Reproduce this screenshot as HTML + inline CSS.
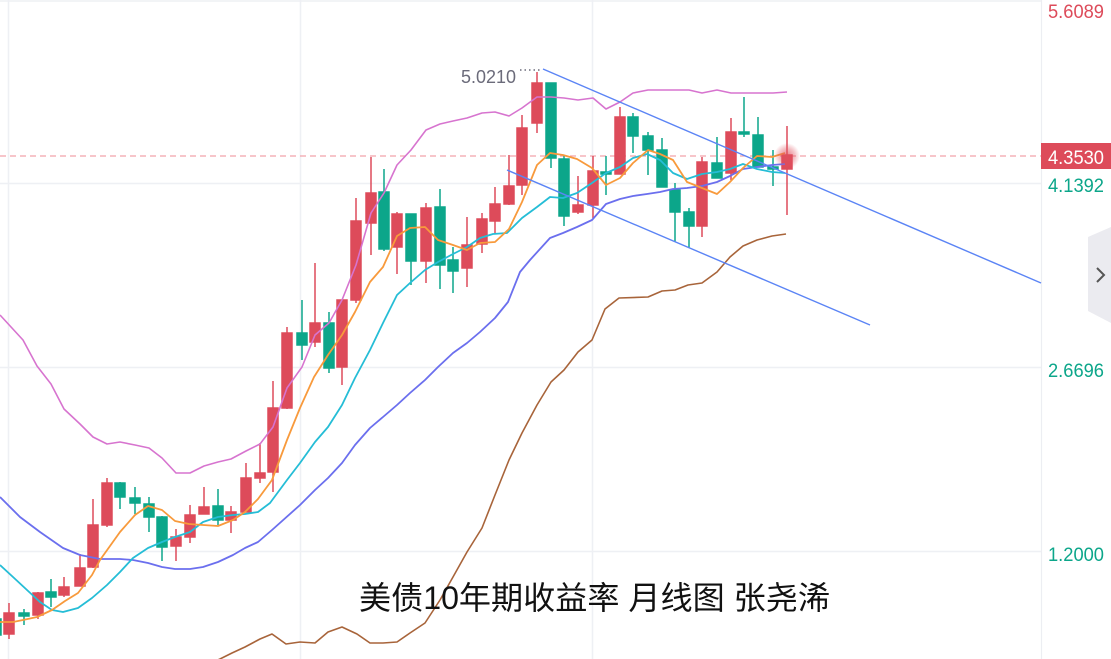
<!DOCTYPE html>
<html><head><meta charset="utf-8"><style>
html,body{margin:0;padding:0;background:#fff;}
svg{display:block;}
</style></head><body>
<svg width="1111" height="659" viewBox="0 0 1111 659" xmlns="http://www.w3.org/2000/svg">
<rect width="1111" height="659" fill="#fff"/>
<radialGradient id="glow"><stop offset="0" stop-color="#e0505e" stop-opacity="0.75"/><stop offset="0.6" stop-color="#e0505e" stop-opacity="0.35"/><stop offset="1" stop-color="#e0505e" stop-opacity="0"/></radialGradient>
<!-- grid -->
<g stroke="#eef0f4" stroke-width="1.5" fill="none">
<line x1="0" y1="1" x2="1041" y2="1"/>
<line x1="0" y1="183.5" x2="1041" y2="183.5"/>
<line x1="0" y1="367.5" x2="1041" y2="367.5"/>
<line x1="0" y1="551.5" x2="1041" y2="551.5"/>
<line x1="8.5" y1="0" x2="8.5" y2="659"/>
<line x1="300.5" y1="0" x2="300.5" y2="659"/>
<line x1="592.5" y1="0" x2="592.5" y2="659"/>
</g>
<line x1="1041.5" y1="0" x2="1041.5" y2="659" stroke="#eceef2" stroke-width="1.2"/>
<line x1="0" y1="156" x2="1041" y2="156" stroke="#f2a2aa" stroke-width="1.2" stroke-dasharray="6 4"/>

<!-- candles -->
<g stroke-width="1.5">
<g stroke="#dd4b5a" fill="#dd4b5a">
<line x1="9" y1="603" x2="9" y2="639"/><rect x="4" y="613" width="10" height="21"/>
<line x1="38" y1="592" x2="38" y2="619"/><rect x="33" y="593" width="10" height="22"/>
<line x1="64" y1="577" x2="64" y2="597"/><rect x="59" y="587" width="10" height="8"/>
<line x1="80" y1="554" x2="80" y2="586"/><rect x="75" y="568" width="10" height="18"/>
<line x1="93" y1="499" x2="93" y2="568"/><rect x="88" y="525" width="10" height="42"/>
<line x1="107" y1="478" x2="107" y2="527"/><rect x="102" y="483" width="10" height="42"/>
<line x1="176" y1="529" x2="176" y2="561"/><rect x="171" y="537" width="10" height="9"/>
<line x1="190" y1="505" x2="190" y2="543"/><rect x="185" y="515" width="10" height="22"/>
<line x1="204" y1="487" x2="204" y2="514"/><rect x="199" y="507" width="10" height="7"/>
<line x1="231" y1="506" x2="231" y2="533"/><rect x="226" y="512" width="10" height="8"/>
<line x1="246" y1="463" x2="246" y2="512"/><rect x="241" y="478" width="10" height="34"/>
<line x1="260" y1="443" x2="260" y2="483"/><rect x="255" y="473" width="10" height="5"/>
<line x1="273" y1="381" x2="273" y2="492"/><rect x="268" y="408" width="10" height="64"/>
<line x1="287" y1="327" x2="287" y2="409"/><rect x="282" y="333" width="10" height="75"/>
<line x1="315" y1="263" x2="315" y2="347"/><rect x="310" y="323" width="10" height="19"/>
<line x1="342" y1="300" x2="342" y2="385"/><rect x="337" y="300" width="10" height="67"/>
<line x1="356" y1="198" x2="356" y2="303"/><rect x="351" y="221" width="10" height="79"/>
<line x1="371" y1="157" x2="371" y2="255"/><rect x="366" y="193" width="10" height="30"/>
<line x1="397" y1="212" x2="397" y2="274"/><rect x="392" y="214" width="10" height="33"/>
<line x1="426" y1="203" x2="426" y2="283"/><rect x="421" y="208" width="10" height="53"/>
<line x1="467" y1="217" x2="467" y2="287"/><rect x="462" y="245" width="10" height="23"/>
<line x1="482" y1="213" x2="482" y2="253"/><rect x="477" y="219" width="10" height="25"/>
<line x1="495" y1="187" x2="495" y2="233"/><rect x="490" y="204" width="10" height="17"/>
<line x1="509" y1="155" x2="509" y2="205"/><rect x="504" y="186" width="10" height="18"/>
<line x1="522" y1="115" x2="522" y2="195"/><rect x="517" y="128" width="10" height="57"/>
<line x1="537" y1="72" x2="537" y2="133"/><rect x="532" y="83" width="10" height="40"/>
<line x1="578" y1="176" x2="578" y2="214"/><rect x="573" y="205" width="10" height="7"/>
<line x1="593" y1="156" x2="593" y2="218"/><rect x="588" y="171" width="10" height="34"/>
<line x1="620" y1="107" x2="620" y2="174"/><rect x="615" y="117" width="10" height="57"/>
<line x1="702" y1="157" x2="702" y2="237"/><rect x="697" y="162" width="10" height="64"/>
<line x1="731" y1="118" x2="731" y2="180"/><rect x="726" y="132" width="10" height="41"/>
<line x1="787" y1="126" x2="787" y2="215"/><rect x="782" y="155" width="10" height="14"/>
</g>
<g stroke="#0ca68a" fill="#0ca68a">
<rect x="-10" y="619" width="11" height="16"/>
<line x1="24" y1="609" x2="24" y2="625"/><rect x="19" y="613" width="10" height="3"/>
<line x1="51" y1="579" x2="51" y2="607"/><rect x="46" y="592" width="10" height="5"/>
<line x1="120" y1="482" x2="120" y2="509"/><rect x="115" y="483" width="10" height="14"/>
<line x1="135" y1="487" x2="135" y2="514"/><rect x="130" y="498" width="10" height="5"/>
<line x1="149" y1="497" x2="149" y2="532"/><rect x="144" y="504" width="10" height="13"/>
<line x1="162" y1="516" x2="162" y2="561"/><rect x="157" y="517" width="10" height="30"/>
<line x1="218" y1="489" x2="218" y2="525"/><rect x="213" y="506" width="10" height="14"/>
<line x1="302" y1="300" x2="302" y2="360"/><rect x="297" y="333" width="10" height="12"/>
<line x1="329" y1="312" x2="329" y2="373"/><rect x="324" y="323" width="10" height="45"/>
<line x1="384" y1="169" x2="384" y2="251"/><rect x="379" y="192" width="10" height="57"/>
<line x1="411" y1="214" x2="411" y2="285"/><rect x="406" y="214" width="10" height="47"/>
<line x1="440" y1="189" x2="440" y2="289"/><rect x="435" y="207" width="10" height="58"/>
<line x1="453" y1="247" x2="453" y2="293"/><rect x="448" y="260" width="10" height="11"/>
<line x1="551" y1="83" x2="551" y2="168"/><rect x="546" y="83" width="10" height="75"/>
<line x1="564" y1="156" x2="564" y2="226"/><rect x="559" y="159" width="10" height="57"/>
<line x1="606" y1="156" x2="606" y2="195"/><rect x="601" y="172" width="10" height="2"/>
<line x1="633" y1="113" x2="633" y2="153"/><rect x="628" y="117" width="10" height="19"/>
<line x1="648" y1="132" x2="648" y2="175"/><rect x="643" y="136" width="10" height="14"/>
<line x1="662" y1="138" x2="662" y2="187"/><rect x="657" y="150" width="10" height="37"/>
<line x1="675" y1="183" x2="675" y2="242"/><rect x="670" y="190" width="10" height="22"/>
<line x1="689" y1="208" x2="689" y2="248"/><rect x="684" y="212" width="10" height="14"/>
<line x1="717" y1="137" x2="717" y2="178"/><rect x="712" y="163" width="10" height="15"/>
<line x1="744" y1="97" x2="744" y2="137"/><rect x="739" y="132" width="10" height="2"/>
<line x1="758" y1="117" x2="758" y2="167"/><rect x="753" y="135" width="10" height="32"/>
<line x1="773" y1="150" x2="773" y2="186"/><rect x="768" y="167" width="10" height="2"/>
</g>
</g>

<!-- lines -->
<g fill="none" stroke-linejoin="round">
<polyline stroke="#d774cf" stroke-width="1.6" points="0,315 23,340 37,366 51,384 64,409 80,424 93,437 107,444 120,442 135,445 149,448 162,458 176,473 190,473 204,466 218,462 231,459 246,451 260,444 273,427 287,388 302,367 315,335 329,323 342,300 356,265 371,213 384,193 397,165 411,150 426,130 440,124 453,121 467,118 482,113 495,112 509,116 522,108 537,97 551,97 564,98 578,100 593,98 606,109 620,102 633,93 648,90 662,90 675,90 689,90 702,93 717,90 731,93 744,93 758,93 773,93 787,92"/>
<polyline stroke="#a8643a" stroke-width="1.6" points="213,662 220,659 232,653 245,647 260,639 272,634 286,644 300,642 315,643 328,632 342,627 357,634 370,643 383,643 397,642 410,633 425,623 440,600 453,577 467,552 482,528 495,495 509,460 522,433 537,405 551,382 564,370 578,352 592,340 605,309 619,298 648,297 662,291 675,290 688,285 702,283 717,272 730,257 743,246 757,240 772,236 786,234"/>
<polyline stroke="#6b6fee" stroke-width="1.8" points="0,497 20,517 40,532 63,548 80,555 100,559 120,559 133,560 148,563 162,567 175,569 190,569 203,567 218,562 233,555 245,548 258,542 272,530 300,505 315,490 328,478 342,463 355,445 370,428 383,417 397,405 410,393 425,380 438,367 453,353 467,343 480,332 495,318 508,302 520,272 530,260 550,238 563,233 577,227 592,220 606,204 620,199 633,196 647,194 660,192 673,189 687,188 702,186 717,182 730,176 743,169 757,167 772,165 785,164"/>
<polyline stroke="#25bdd6" stroke-width="1.8" points="0,565 13,577 27,590 40,602 52,610 63,612 78,608 92,598 107,585 120,572 133,558 148,548 162,542 175,537 190,532 203,522 218,517 233,515 245,514 258,512 270,503 287,480 300,463 315,442 328,427 342,405 355,378 370,350 383,323 397,295 410,283 425,270 438,262 453,254 467,247 480,238 493,234 507,233 522,218 537,207 550,197 563,198 577,193 592,183 606,173 620,167 633,158 647,154 660,160 673,173 687,179 702,174 717,172 730,169 743,164 757,169 772,172 785,173"/>
<polyline stroke="#f89a3c" stroke-width="1.8" points="0,622 13,622 23,620 37,617 52,610 65,601 78,593 92,575 100,560 120,532 135,515 148,506 162,510 175,521 189,524 203,525 218,526 233,520 245,512 258,499 272,480 287,440 300,408 314,377 328,355 342,335 355,312 370,282 383,267 397,236 410,228 425,227 438,240 453,245 467,250 480,243 495,242 509,229 522,202 537,165 550,153 563,155 577,159 592,168 606,185 620,178 633,163 648,150 660,154 673,160 687,182 702,188 717,194 730,182 743,168 757,156 772,157 785,153"/>
<line x1="543" y1="69" x2="1041" y2="283" stroke="#5b84f5" stroke-width="1.4"/>
<line x1="507" y1="170" x2="870" y2="325" stroke="#5b84f5" stroke-width="1.4"/>
</g>

<circle cx="787" cy="156" r="13" fill="url(#glow)"/>

<!-- annotation -->
<text x="461" y="83" font-family="Liberation Sans, sans-serif" font-size="18.5" fill="#6b6b7a" textLength="55" lengthAdjust="spacingAndGlyphs">5.0210</text>
<line x1="520" y1="70" x2="541" y2="70" stroke="#6b6b7a" stroke-width="1.5" stroke-dasharray="1.5 3"/>

<!-- right axis -->
<g font-family="Liberation Sans, sans-serif" font-size="19">
<text x="1048" y="18" fill="#dd4b5a" textLength="56" lengthAdjust="spacingAndGlyphs">5.6089</text>
<rect x="1041" y="143" width="70" height="26" fill="#dd4b5a"/>
<text x="1048" y="164" fill="#fff" textLength="56" lengthAdjust="spacingAndGlyphs">4.3530</text>
<text x="1048" y="192" fill="#0ca68a" textLength="56" lengthAdjust="spacingAndGlyphs">4.1392</text>
<text x="1048" y="377" fill="#0ca68a" textLength="56" lengthAdjust="spacingAndGlyphs">2.6696</text>
<text x="1048" y="561" fill="#0ca68a" textLength="56" lengthAdjust="spacingAndGlyphs">1.2000</text>
</g>
<polygon points="1111,227 1088,237 1088,311 1111,323" fill="#ebebf0"/>
<polyline points="1097,268 1104,275 1097,282" fill="none" stroke="#555" stroke-width="2"/>

<!-- title -->
<text x="359" y="609" font-family="Liberation Sans, Noto Sans CJK SC, sans-serif" font-size="32" fill="#111" textLength="471" lengthAdjust="spacingAndGlyphs">美债10年期收益率 月线图 张尧浠</text>
</svg>
</body></html>
